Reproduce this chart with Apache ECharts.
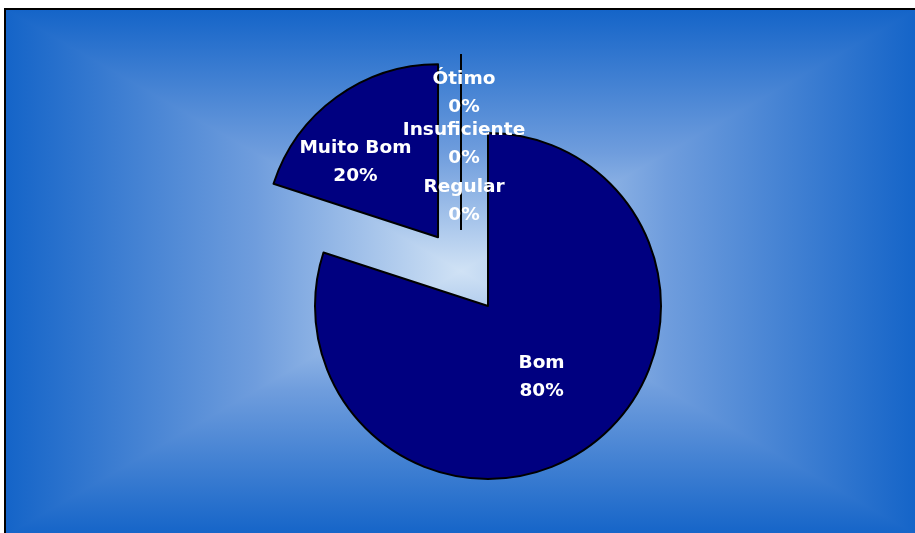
<!DOCTYPE html>
<html><head><meta charset="utf-8">
<script src="https://cdn.jsdelivr.net/npm/echarts@6/dist/echarts.min.js"></script>
<style>html,body{margin:0;padding:0;background:#fff}#c{width:915px;height:533px}</style>
</head><body><div id="c"></div>
<script>
const mainCategories = ['Bom', 'Muito Bom'];
const mainValues = [80, 20];
const zeroCategories = ['Ótimo', 'Insuficiente', 'Regular'];
const zeroValues = [0, 0, 0];

const total = mainValues.concat(zeroValues).reduce((a, b) => a + b, 0);
const fmt = p => p.name + '\n' + Math.round(p.value / total * 100) + '%';

const chart = echarts.init(document.getElementById('c'), null, {renderer: 'canvas'});

const L = 5, T = 9, R = 918, B = 536, CX = 461, CY = 271;
const EDGE = '#1464c8', MID = '#d0e2f5';
const STOPS = [{offset: 0, color: EDGE}, {offset: 0.55, color: '#6f9ddd'}, {offset: 1, color: MID}];
function grad(x0, y0, x1, y1) {
  return new echarts.graphic.LinearGradient(x0, y0, x1, y1, STOPS, true);
}
const hStops = [
  {offset: 0, color: EDGE},
  {offset: 0.55 * (CX - L) / (R - L), color: '#6f9ddd'},
  {offset: (CX - L) / (R - L), color: MID},
  {offset: 1 - 0.55 * (R - CX) / (R - L), color: '#6f9ddd'},
  {offset: 1, color: EDGE}
];
const bg = [
  {type: 'rect', z: -3, shape: {x: L, y: T, width: R - L, height: B - T},
   style: {fill: new echarts.graphic.LinearGradient(L, 0, R, 0, hStops, true)}, silent: true},
  {type: 'polygon', z: -2, shape: {points: [[L, T], [R, T], [CX, CY]]}, style: {fill: grad(0, T, 0, CY)}, silent: true},
  {type: 'polygon', z: -2, shape: {points: [[L, B], [R, B], [CX, CY]]}, style: {fill: grad(0, B, 0, CY)}, silent: true},
  {type: 'rect', z: -1, shape: {x: L, y: T, width: R - L + 10, height: B - T + 10}, style: {fill: null, stroke: '#000', lineWidth: 2}, silent: true}
];

const labelStyle = {
  show: true, position: 'inside', color: '#fff', fontFamily: 'DejaVu Sans',
  fontWeight: 'bold', fontSize: 18.5, lineHeight: 28, formatter: fmt
};

chart.setOption({
  animation: false,
  graphic: {elements: bg},
  series: [
    {
      type: 'pie', center: [488, 306], radius: 173, startAngle: 90, clockwise: true,
      selectedMode: 'multiple', selectedOffset: 85,
      emphasis: {disabled: true},
      itemStyle: {color: '#000080', borderColor: '#000', borderWidth: 2},
      label: labelStyle, labelLine: {show: false},
      labelLayout: p => (p.dataIndex === 1 ? {dx: -30, dy: -3} : {dx: 1, dy: -1}),
      data: mainCategories.map((n, i) => ({name: n, value: mainValues[i], selected: i === 1}))
    },
    {
      type: 'pie', center: [461, 229], radius: 174, startAngle: 90, clockwise: true,
      stillShowZeroSum: false, minAngle: 0,
      emphasis: {disabled: true},
      itemStyle: {color: '#000080', borderColor: '#000', borderWidth: 2},
      label: labelStyle, labelLine: {show: false},
      labelLayout: p => ({dx: 3, dy: [-46, 5, 62][p.dataIndex]}),
      data: zeroCategories.map((n, i) => ({name: n, value: zeroValues[i]}))
    }
  ]
});
</script></body></html>
